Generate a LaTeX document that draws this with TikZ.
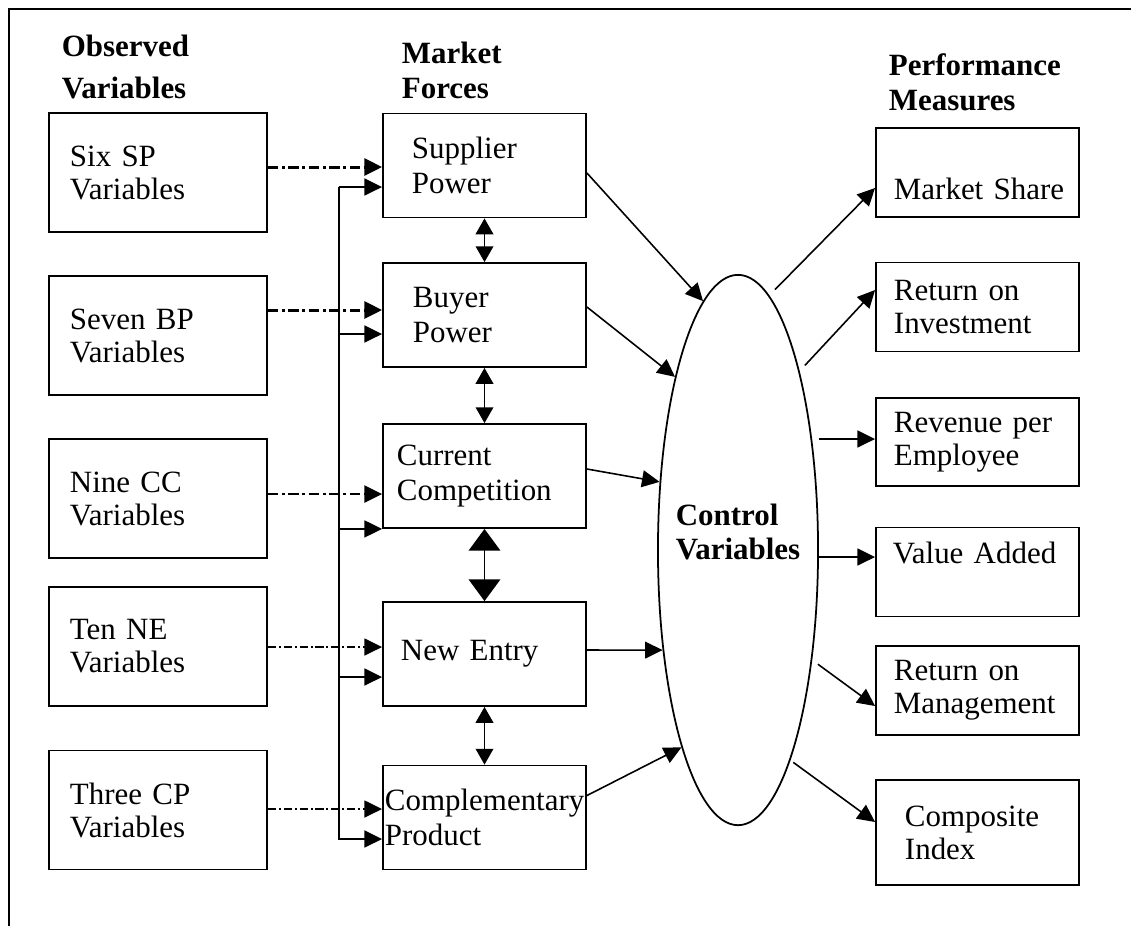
\documentclass[tikz,border=0pt]{standalone}
\usepackage{fontspec}
\setmainfont{Liberation Serif}
\usetikzlibrary{arrows.meta,shapes.geometric,calc}
\hyphenpenalty=10000
\exhyphenpenalty=10000

\begin{document}
\begin{tikzpicture}[x=0.01cm, y=-0.01cm, line width=0.5pt,
  >={Triangle[length=5pt,width=4.8pt]},
  every node/.style={font=\fontsize{8.8}{9.4}\selectfont},
  head/.style={anchor=north west, inner sep=0pt, align=left, font=\fontsize{8.8}{10}\selectfont\bfseries},
  obs box/.style={draw, minimum height=1.19cm, text width=1.76cm, inner xsep=0.21cm, align=left},
  force box/.style={draw, minimum height=1.04cm, align=left, font=\fontsize{8.8}{10}\selectfont},
  perf box/.style={draw, minimum height=0.89cm, text width=1.67cm, inner xsep=0.18cm, align=left},
  thick link/.style={->, line width=0.85pt, dash pattern=on 3pt off 1pt on 0.8pt off 1pt},
  thin link/.style={->, line width=0.45pt, dash pattern=on 2.3pt off 0.8pt on 0.6pt off 0.8pt},
  big tips/.style={>={Triangle[length=6.2pt,width=9pt]}}]

  \useasboundingbox (0,0) rectangle (1131,926);
  \draw (1131,9) -- (9,9) -- (9,926);

  % Column headings
  \node[head, font=\fontsize{8.8}{12}\selectfont\bfseries] (hobs) at (61,34) {Observed\\Variables};
  \node[head] (hforce) at (401,41) {Market\\Forces};
  \node[head] (hperf) at (888,53) {Performance\\Measures};

  % Observed variables
  \node[obs box] (sixsp) at (158,172.5) {Six SP\\Variables};
  \node[obs box] (sevbp) at (158,335.5) {Seven BP\\Variables};
  \node[obs box] (ninecc) at (158,498.5) {Nine CC\\Variables};
  \node[obs box] (tenne) at (158,646.5) {Ten NE\\Variables};
  \node[obs box] (threecp) at (158,810) {Three CP\\Variables};

  % Market forces
  \node[force box, inner xsep=0.29cm, text width=1.45cm] (sp) at (484.5,165.5) {Supplier\\Power};
  \node[force box, inner xsep=0.30cm, text width=1.43cm] (bp) at (484.5,315) {Buyer\\Power};
  \node[force box, inner xsep=0.14cm, text width=1.75cm] (cc) at (484.5,476) {Current\\Competition};
  \node[force box, inner xsep=0.18cm, text width=1.67cm] (ne) at (484.5,654) {New Entry};
  \node[force box, inner xsep=0.02cm, text width=1.99cm] (cp) at (484.5,817.5) {Complementary\\Product};

  % Control variables
  \node[draw, ellipse, minimum width=1.6cm, minimum height=5.5cm, inner sep=0pt,
    label={[align=left, yshift=0.18cm, font=\fontsize{8.8}{9.7}\selectfont\bfseries]center:{Control\\Variables}}] (ctrl) at (738,550) {};

  % Performance measures
  \node[perf box, text height=15.6pt, text depth=0pt] (ms) at (977.5,172.5) {Market~Share};
  \node[perf box] (roi) at (977.5,307) {Return on\\Investment};
  \node[perf box, minimum height=0.88cm] (rpe) at (977.5,442) {Revenue per\\Employee};
  \node[perf box, inner xsep=0.17cm, text width=1.69cm, text height=6pt, text depth=11.1pt] (va) at (977.5,572) {Value Added};
  \node[perf box] (rom) at (977.5,690.5) {Return on\\Management};
  \node[perf box, minimum height=1.05cm, inner xsep=0.29cm, text width=1.45cm] (ci) at (977.5,832.5) {Composite\\Index};

  % Observed variables to market forces
  \path
    ($(sixsp.east)+(0,-5.5)$) edge[thick link] ($(sp.west)+(0,1.5)$)
    ($(sevbp.east)+(0,-25.5)$) edge[thick link] ($(bp.west)+(0,-5)$)
    ($(ninecc.east)+(0,-4.5)$) edge[thick link, line width=0.7pt] ($(cc.west)+(0,18)$)
    ($(tenne.east)+(0,0.5)$) edge[thin link] ($(ne.west)+(0,-7)$)
    ($(threecp.east)+(0,-1)$) edge[thin link] ($(cp.west)+(0,-8.5)$);

  \coordinate (trunk) at (339,187);
  \draw[->] (trunk) |- ($(sp.west)+(0,21.5)$);
  \draw[->] (trunk) |- ($(bp.west)+(0,19)$);
  \draw[->] (trunk) |- (cc.south west);
  \draw[->] (trunk) |- ($(ne.west)+(0,23)$);
  \draw[->] (trunk) |- ($(cp.west)+(0,21.5)$);

  % Links between the forces
  \path[<->, >={Triangle[length=4.5pt,width=5pt]}]
    (sp) edge (bp)
    (bp) edge (cc)
    (cc) edge[big tips] (ne)
    (ne) edge (cp);

  % Forces to control variables
  \path[->, line width=0.45pt]
    ($(sp.east)+(0,7.5)$) edge (ctrl.98)
    ($(bp.east)+(0,-8)$) edge (ctrl.110)
    ($(cc.east)+(0,-7)$) edge (ctrl.139)
    ($(ne.east)+(0,-4)$) edge (ctrl.233)
    ($(cp.east)+(0,-22)$) edge (ctrl.254);

  % Control variables to performance measures
  \path[->, line width=0.45pt]
    (ctrl.83) edge[shorten <=2.3pt] ($(ms.west)+(0,15.5)$)
    (ctrl.71) edge[shorten <=2.2pt] ($(roi.west)+(0,-17)$)
    ($(ctrl.east)+(0,-111)$) edge ($(rpe.west)+(0,-3)$)
    ($(ctrl.east)+(0,7)$) edge ($(va.west)+(0,-15)$)
    (ctrl.-56) edge[shorten <=2pt] ($(rom.west)+(0,15.5)$)
    (ctrl.-76) edge[shorten <=1pt] ($(ci.west)+(0,-10.5)$);
\end{tikzpicture}
\end{document}
